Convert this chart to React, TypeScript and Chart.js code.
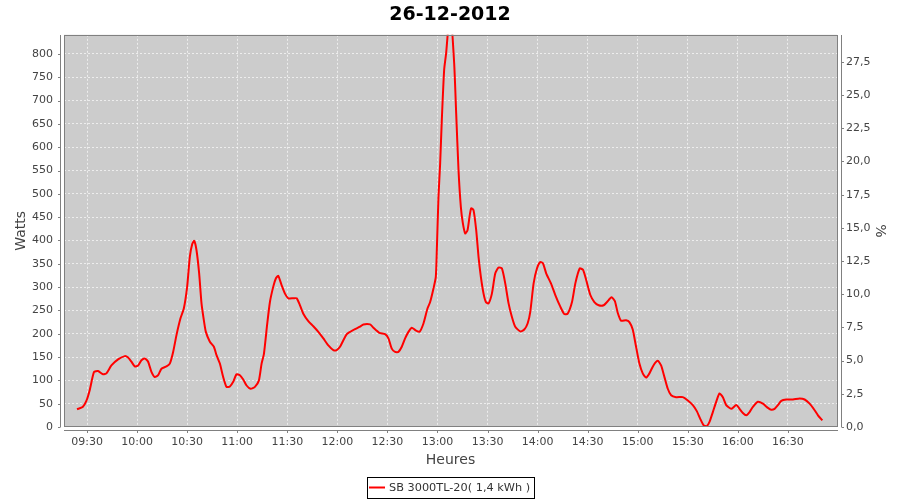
import { useEffect, useRef } from "react";
import { Chart, registerables } from "chart.js";

Chart.register(...registerables);

const chartTitle = "26-12-2012";
const seriesLabel = "SB 3000TL-20( 1,4 kWh )";
const xAxisTitle = "Heures";
const leftAxisTitle = "Watts";
const rightAxisTitle = "%";

// minutes since midnight
const timeMinutes = [
  564, 567.4, 569.6, 571.6, 574.2, 576.6, 579.6, 581.6, 584.6, 588.6,
  592.6, 594.6, 596.6, 598.6, 600.6, 602.6, 604.6, 606.6, 608.6, 610.6,
  612.6, 614.6, 617.6, 619.6, 621.6, 623.6, 626, 628, 630, 631.6,
  633, 634.2, 635.6, 637.2, 638.6, 640, 641.2, 643.6, 646, 647.6,
  649.6, 651.6, 653.6, 655.6, 657.6, 659.6, 661.6, 663.6, 665.6, 668,
  670.6, 673, 674.6, 676, 678, 679.6, 681.6, 683.2, 684.6, 686.6,
  688.6, 690.6, 693.6, 695.6, 697.6, 699.6, 702.6, 705.6, 708.6, 711.6,
  714.6, 717.6, 719.6, 721.6, 723.6, 725.6, 729.6, 733.6, 735.6, 739.6,
  741.6, 745.2, 748.6, 750.6, 752.6, 754.6, 756.6, 758.6, 760.6, 762.6,
  764.6, 766.6, 769.2, 771.6, 774, 775.6, 777.6, 779, 779.6, 780.6,
  781.6, 782.6, 784, 785.2, 787.6, 790, 791.2, 792.6, 794, 795.2,
  796.6, 798, 799.2, 800.2, 801.6, 803.2, 804.6, 806, 807.6, 809,
  810.6, 812.6, 814.6, 816.6, 818.6, 820.6, 822.6, 824.6, 826.6, 829.6,
  832, 834, 835.6, 837.6, 839.6, 841.6, 843.2, 845.2, 848, 850.6,
  853.6, 856, 858, 860.6, 862.6, 865.2, 867.2, 869.2, 871.6, 874,
  876.6, 879.6, 881.6, 884.3, 886.3, 888, 890, 893, 895, 897,
  899, 901, 903, 905, 907, 909.4, 912, 914, 916, 918,
  920, 923, 927, 930, 933, 935.4, 937.4, 939.4, 941.4, 943,
  945, 947, 949, 951, 953, 956, 959, 961, 963, 965,
  967, 969, 972, 975, 978, 980, 982, 984, 986, 989,
  993, 997, 1000, 1003, 1006, 1008, 1010.6,
];

const watts = [
  38, 43, 56, 79, 118, 120, 113, 115, 132, 145,
  152, 149, 140, 130, 132, 143, 147, 140, 118, 107,
  111, 125, 130, 136, 161, 197, 233, 254, 301, 365,
  392, 399, 379, 329, 265, 229, 204, 183, 172, 154,
  136, 107, 86, 87, 97, 113, 111, 102, 89, 82,
  86, 100, 136, 157, 222, 268, 301, 319, 324, 304,
  286, 276, 276, 276, 261, 243, 227, 216, 204, 190,
  175, 165, 165, 172, 186, 199, 208, 215, 220, 220,
  213, 202, 199, 190, 168, 161, 161, 172, 190, 204,
  213, 208, 204, 222, 254, 268, 297, 322, 379, 494,
  565, 659, 766, 802, 895, 780, 673, 551, 472, 437,
  415, 422, 451, 469, 465, 422, 365, 322, 286, 268,
  265, 286, 329, 342, 340, 308, 265, 236, 215, 205,
  209, 222, 247, 308, 340, 354, 351, 329, 308, 283,
  258, 242, 243, 268, 308, 340, 337, 314, 283, 268,
  261, 261, 268, 278, 270, 245, 228, 229, 225, 209,
  172, 136, 115, 106, 115, 132, 142, 132, 107, 82,
  68, 64, 64, 57, 47, 34, 18, 4, 2, 11,
  32, 54, 72, 64, 47, 39, 47, 39, 30, 25,
  32, 43, 54, 50, 41, 37, 39, 47, 56, 59,
  59, 61, 59, 50, 36, 25, 14,
];

const xTickMinutes = [570, 600, 630, 660, 690, 720, 750, 780, 810, 840, 870, 900, 930, 960, 990];
const wattTicks = [0, 50, 100, 150, 200, 250, 300, 350, 400, 450, 500, 550, 600, 650, 700, 750, 800];
const percentTicks = [0, 2.5, 5, 7.5, 10, 12.5, 15, 17.5, 20, 22.5, 25, 27.5];

const xMin = 556.2;
const xMax = 1019.4;
const wattMax = 841;
const percentMax = 29.54;

const FONT = "'DejaVu Sans', sans-serif";
const GRID = "rgba(255,255,255,0.65)";

const fmtTime = (v: number) =>
  `${String(Math.floor(v / 60)).padStart(2, "0")}:${String(Math.round(v % 60)).padStart(2, "0")}`;

const decorPlugin = {
  id: "decor",
  beforeDraw(chart: any) {
    const { ctx, chartArea } = chart;
    ctx.save();
    ctx.fillStyle = "#ffffff";
    ctx.fillRect(0, 0, chart.width, chart.height);
    ctx.fillStyle = "#cccccc";
    ctx.fillRect(chartArea.left, chartArea.top, chartArea.right - chartArea.left, chartArea.bottom - chartArea.top);
    ctx.restore();
  },
  afterDraw(chart: any) {
    const { ctx, chartArea } = chart;
    const L = Math.round(chartArea.left);
    const R = Math.round(chartArea.right);
    const T = Math.round(chartArea.top);
    const B = Math.round(chartArea.bottom);
    ctx.save();
    ctx.setLineDash([]);
    ctx.lineWidth = 1;
    ctx.strokeStyle = "#808080";
    // plot outline
    ctx.strokeRect(L + 0.5, T + 0.5, R - L, B - T - 1);
    // axis lines (offset from plot)
    ctx.beginPath();
    ctx.moveTo(L - 3.5, T);
    ctx.lineTo(L - 3.5, B);
    ctx.moveTo(L, B + 3.5);
    ctx.lineTo(R + 1, B + 3.5);
    ctx.moveTo(R + 4.5, T);
    ctx.lineTo(R + 4.5, B);
    // tick marks
    const xs = chart.scales.x;
    xs.ticks.forEach((t: any) => {
      const px = Math.round(xs.getPixelForValue(t.value)) + 0.5;
      ctx.moveTo(px, B + 3.5);
      ctx.lineTo(px, B + 6);
    });
    const ys = chart.scales.y;
    ys.ticks.forEach((t: any) => {
      const py = Math.round(ys.getPixelForValue(t.value)) + 0.5;
      ctx.moveTo(L - 3.5, py);
      ctx.lineTo(L - 6, py);
    });
    const y1 = chart.scales.y1;
    y1.ticks.forEach((t: any) => {
      const py = Math.round(y1.getPixelForValue(t.value)) + 0.5;
      ctx.moveTo(R + 4.5, py);
      ctx.lineTo(R + 7, py);
    });
    ctx.stroke();

    // legend
    const ds = chart.data.datasets[0];
    ctx.font = `11.3px ${FONT}`;
    const tw = ctx.measureText(ds.label).width;
    const boxW = Math.round(22 + tw + 4);
    const boxH = 21;
    const x0 = Math.round((chart.width - boxW) / 2);
    const y0 = 477;
    ctx.strokeStyle = "#000000";
    ctx.strokeRect(x0 + 0.5, y0 + 0.5, boxW, boxH);
    const cy = y0 + 10.5;
    ctx.strokeStyle = ds.borderColor;
    ctx.lineWidth = 2;
    ctx.beginPath();
    ctx.moveTo(x0 + 2, cy);
    ctx.lineTo(x0 + 18, cy);
    ctx.stroke();
    ctx.fillStyle = "#333333";
    ctx.textBaseline = "middle";
    ctx.textAlign = "left";
    ctx.fillText(ds.label, x0 + 22, cy + 0.5);
    ctx.restore();
  },
};

export default function App() {
  const canvasRef = useRef<HTMLCanvasElement | null>(null);

  useEffect(() => {
    if (!canvasRef.current) return;
    Chart.defaults.font.family = FONT;
    const chart = new Chart(canvasRef.current, {
      type: "line",
      data: {
        datasets: [
          {
            label: seriesLabel,
            data: timeMinutes.map((t, i) => ({ x: t, y: watts[i] })),
            borderColor: "#ff0000",
            backgroundColor: "#ff0000",
            borderWidth: 2,
            pointRadius: 0,
            tension: 0.2,
            fill: false,
            yAxisID: "y",
            xAxisID: "x",
          },
        ],
      },
      plugins: [decorPlugin],
      options: {
        animation: false,
        responsive: false,
        devicePixelRatio: 1,
        layout: { padding: { left: 0, right: 0, top: 0, bottom: 30 } },
        plugins: {
          legend: { display: false },
          tooltip: { enabled: false },
          title: {
            display: true,
            text: chartTitle,
            color: "#000000",
            font: { family: FONT, size: 19, weight: "bold" },
            padding: { top: 4, bottom: 8 },
          },
        },
        scales: {
          x: {
            type: "linear",
            position: "bottom",
            min: xMin,
            max: xMax,
            afterBuildTicks: (axis: any) => {
              axis.ticks = xTickMinutes.map((v) => ({ value: v }));
            },
            afterFit: (s: any) => {
              s.height = 43;
            },
            ticks: {
              callback: (v: any) => fmtTime(Number(v)),
              color: "#444444",
              font: { family: FONT, size: 11 },
              padding: 9,
              maxRotation: 0,
              autoSkip: false,
            },
            grid: { color: GRID, lineWidth: 1, drawTicks: false },
            border: { display: false, dash: [2, 2] },
            title: {
              display: true,
              text: xAxisTitle,
              color: "#444444",
              font: { family: FONT, size: 14 },
              padding: { top: 0, bottom: 1 },
            },
          },
          y: {
            type: "linear",
            position: "left",
            min: 0,
            max: wattMax,
            afterBuildTicks: (axis: any) => {
              axis.ticks = wattTicks.map((v) => ({ value: v }));
            },
            afterFit: (s: any) => {
              s.width = 64;
            },
            ticks: {
              color: "#444444",
              font: { family: FONT, size: 11 },
              padding: 11,
            },
            grid: { color: GRID, lineWidth: 1, drawTicks: false },
            border: { display: false, dash: [2, 2] },
            title: {
              display: true,
              text: leftAxisTitle,
              color: "#444444",
              font: { family: FONT, size: 14 },
              padding: { top: 13, bottom: 0 },
            },
          },
          y1: {
            type: "linear",
            position: "right",
            min: 0,
            max: percentMax,
            afterBuildTicks: (axis: any) => {
              axis.ticks = percentTicks.map((v) => ({ value: v }));
            },
            afterFit: (s: any) => {
              s.width = 63;
            },
            ticks: {
              callback: (v: any) => Number(v).toFixed(1).replace(".", ","),
              color: "#444444",
              font: { family: FONT, size: 11 },
              padding: 9,
            },
            grid: { display: false, drawTicks: false },
            border: { display: false },
            title: {
              display: true,
              text: rightAxisTitle,
              color: "#444444",
              font: { family: FONT, size: 14 },
              padding: { top: 12, bottom: 0 },
            },
          },
        },
      },
    } as any);
    return () => chart.destroy();
  }, []);

  return (
    <div style={{ position: "fixed", left: 0, top: 0, width: 900, height: 500, background: "#ffffff" }}>
      <canvas ref={canvasRef} width={900} height={500} style={{ display: "block" }} />
    </div>
  );
}
